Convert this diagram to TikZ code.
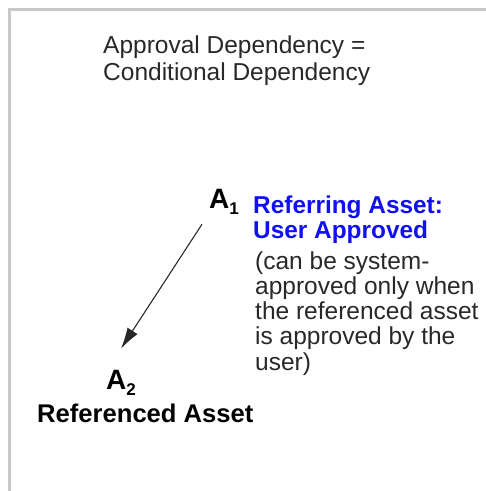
\documentclass[tikz,border=0pt]{standalone}
\usepackage{fontspec}
\setmainfont{Liberation Sans}
\usepackage{xcolor}
\usetikzlibrary{arrows.meta,positioning}
\definecolor{refblue}{RGB}{16, 16, 240}
\definecolor{textgray}{RGB}{40, 40, 40}
\definecolor{framegray}{RGB}{200, 200, 200}

\tikzset{
    plain/.style={inner sep=0pt, anchor=base west, align=left, text=textgray},
    asset/.style={inner sep=0pt, anchor=base west, font=\bfseries\fontsize{28}{28}\selectfont},
    depend/.style={-{Latex[length=21pt,width=12pt]}, line width=1.1pt, draw=textgray}
}
\newcommand{\assetsub}[1]{\raisebox{-6pt}{\fontsize{17}{17}\selectfont #1}}

\begin{document}
\begin{tikzpicture}[x=1pt, y=-1pt]
            \useasboundingbox (0,0) rectangle (486,491);
            % Frame
            \draw[framegray, line width=2.5pt] (9.5,491) -- (9.5,9.5) -- (486,9.5);

            % Title (base = last line)
            \node[plain, font=\fontsize{24.5}{27}\selectfont] (title) at (103,80)
                {Approval Dependency =\\Conditional Dependency};

            % Assets
            \node[asset] (a1) at (209,208) {A\assetsub{1}};
            \node[asset] (a2) at (106,389) {A\assetsub{2}};

            % Labels
            \node[plain, text=refblue, font=\bfseries\fontsize{24.4}{25}\selectfont] (referring) at (253,238)
                {Referring Asset:\\User Approved};
            \node[plain, font=\fontsize{24.5}{25.25}\selectfont] (note) at (255,370)
                {(can be system-\\approved only when\\the referenced asset\\is approved by the\\user)};
            \node[plain, text=black, font=\bfseries\fontsize{25.6}{26}\selectfont] (referenced) at (37,422)
                {Referenced Asset};

            % Dependency
            \draw[depend] ([shift={(-7,10)}]a1.south west) -- ([shift={(0,-21)}]a2.north);
        \end{tikzpicture}
\end{document}
